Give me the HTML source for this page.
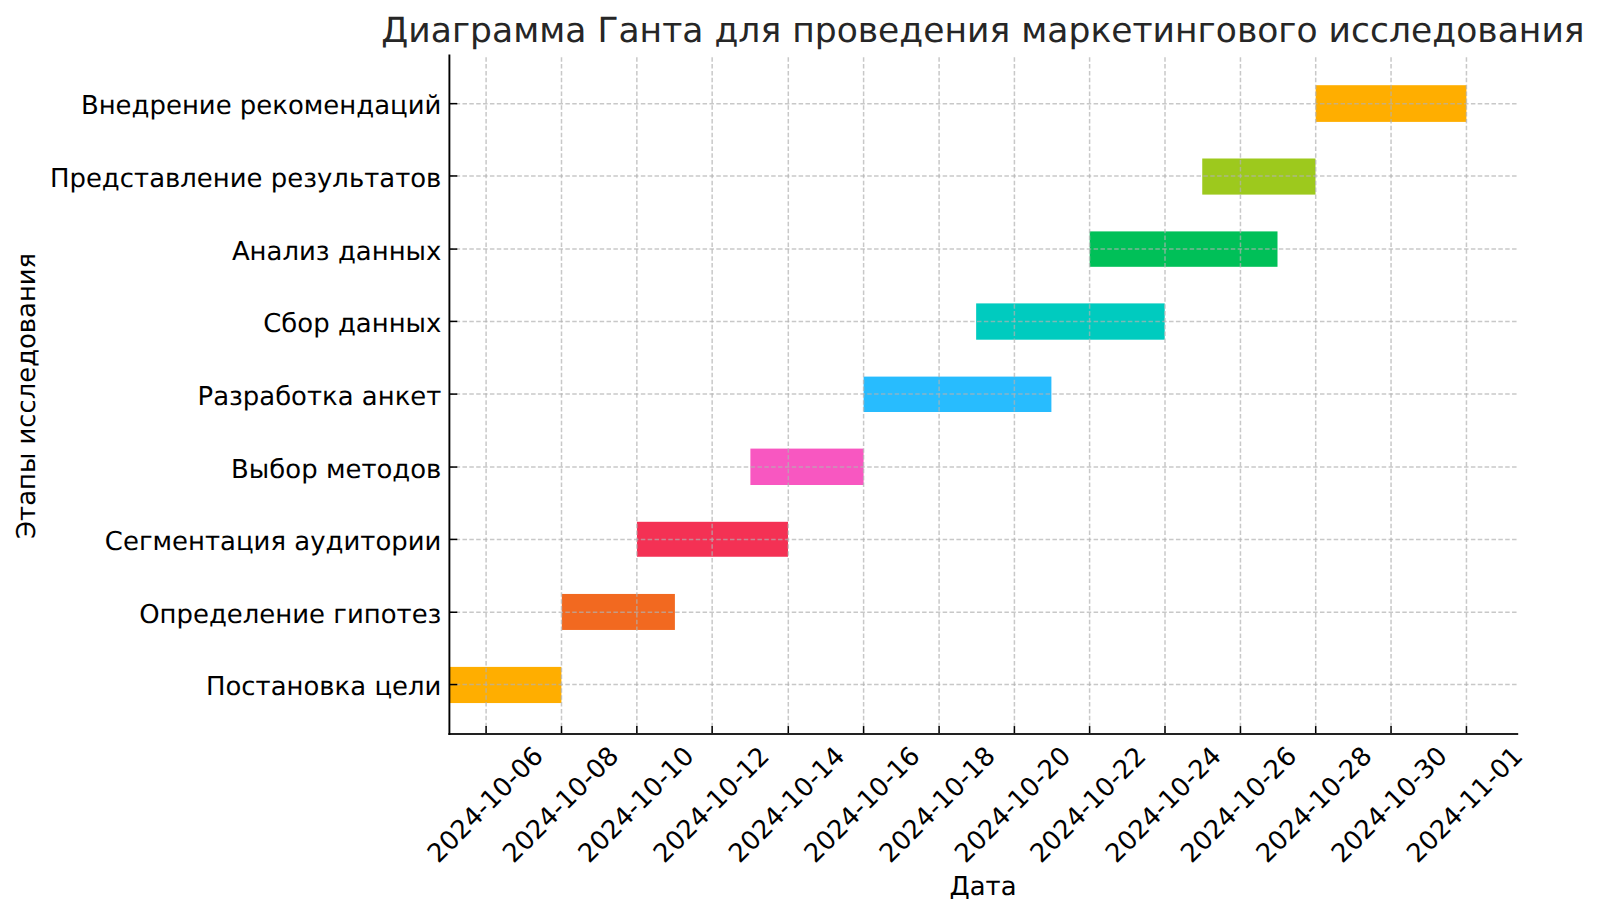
<!DOCTYPE html>
<html lang="ru"><head><meta charset="utf-8"><title>Диаграмма Ганта</title>
<style>html,body{margin:0;padding:0;background:#fff;overflow:hidden}svg{display:block}text{text-rendering:geometricPrecision;font-family:"DejaVu Sans","Liberation Sans",sans-serif;fill:#000}</style></head><body>
<svg width="1600" height="916" viewBox="0 0 1600 916">
<rect width="1600" height="916" fill="#fff"/>
<g id="bars">
<rect x="1315.70" y="85.20" width="150.70" height="36.70" fill="#FFAE00"/>
<rect x="1202.25" y="158.50" width="113.25" height="36.10" fill="#9DC91D"/>
<rect x="1089.70" y="231.40" width="187.80" height="35.40" fill="#00C058"/>
<rect x="976.15" y="303.40" width="188.55" height="36.30" fill="#00CBBF"/>
<rect x="863.60" y="376.60" width="187.80" height="35.40" fill="#28BCFE"/>
<rect x="750.40" y="448.60" width="113.20" height="36.40" fill="#F857C1"/>
<rect x="636.95" y="521.80" width="151.05" height="34.95" fill="#F43154"/>
<rect x="561.80" y="593.95" width="113.10" height="36.00" fill="#F26920"/>
<rect x="449.40" y="666.90" width="112.00" height="36.15" fill="#FFAE00"/>
</g>
<g id="grid" stroke="#b0b0b0" stroke-opacity="0.7" stroke-width="1.5" stroke-dasharray="4.5 2.36" fill="none">
<line x1="486.10" y1="734.00" x2="486.10" y2="55.40"/>
<line x1="561.50" y1="734.00" x2="561.50" y2="55.40"/>
<line x1="636.85" y1="734.00" x2="636.85" y2="55.40"/>
<line x1="712.15" y1="734.00" x2="712.15" y2="55.40"/>
<line x1="788.30" y1="734.00" x2="788.30" y2="55.40"/>
<line x1="863.60" y1="734.00" x2="863.60" y2="55.40"/>
<line x1="939.10" y1="734.00" x2="939.10" y2="55.40"/>
<line x1="1014.40" y1="734.00" x2="1014.40" y2="55.40"/>
<line x1="1089.60" y1="734.00" x2="1089.60" y2="55.40"/>
<line x1="1165.00" y1="734.00" x2="1165.00" y2="55.40"/>
<line x1="1240.45" y1="734.00" x2="1240.45" y2="55.40"/>
<line x1="1315.70" y1="734.00" x2="1315.70" y2="55.40"/>
<line x1="1391.05" y1="734.00" x2="1391.05" y2="55.40"/>
<line x1="1466.45" y1="734.00" x2="1466.45" y2="55.40"/>
<line x1="1517.20" y1="103.65" x2="449.40" y2="103.65" stroke-dashoffset="-0.65"/>
<line x1="1517.20" y1="175.96" x2="449.40" y2="175.96" stroke-dashoffset="-0.65"/>
<line x1="1517.20" y1="249.08" x2="449.40" y2="249.08" stroke-dashoffset="-0.65"/>
<line x1="1517.20" y1="321.40" x2="449.40" y2="321.40" stroke-dashoffset="-0.65"/>
<line x1="1517.20" y1="394.10" x2="449.40" y2="394.10" stroke-dashoffset="-0.65"/>
<line x1="1517.20" y1="467.05" x2="449.40" y2="467.05" stroke-dashoffset="-0.65"/>
<line x1="1517.20" y1="539.40" x2="449.40" y2="539.40" stroke-dashoffset="-0.65"/>
<line x1="1517.20" y1="612.25" x2="449.40" y2="612.25" stroke-dashoffset="-0.65"/>
<line x1="1517.20" y1="684.56" x2="449.40" y2="684.56" stroke-dashoffset="-0.65"/>
</g>
<g id="ticks" stroke="#000" stroke-width="1.5">
<line x1="486.10" y1="734.00" x2="486.10" y2="726.10"/>
<line x1="561.50" y1="734.00" x2="561.50" y2="726.10"/>
<line x1="636.85" y1="734.00" x2="636.85" y2="726.10"/>
<line x1="712.15" y1="734.00" x2="712.15" y2="726.10"/>
<line x1="788.30" y1="734.00" x2="788.30" y2="726.10"/>
<line x1="863.60" y1="734.00" x2="863.60" y2="726.10"/>
<line x1="939.10" y1="734.00" x2="939.10" y2="726.10"/>
<line x1="1014.40" y1="734.00" x2="1014.40" y2="726.10"/>
<line x1="1089.60" y1="734.00" x2="1089.60" y2="726.10"/>
<line x1="1165.00" y1="734.00" x2="1165.00" y2="726.10"/>
<line x1="1240.45" y1="734.00" x2="1240.45" y2="726.10"/>
<line x1="1315.70" y1="734.00" x2="1315.70" y2="726.10"/>
<line x1="1391.05" y1="734.00" x2="1391.05" y2="726.10"/>
<line x1="1466.45" y1="734.00" x2="1466.45" y2="726.10"/>
<line x1="449.40" y1="103.65" x2="457.30" y2="103.65"/>
<line x1="449.40" y1="175.96" x2="457.30" y2="175.96"/>
<line x1="449.40" y1="249.08" x2="457.30" y2="249.08"/>
<line x1="449.40" y1="321.40" x2="457.30" y2="321.40"/>
<line x1="449.40" y1="394.10" x2="457.30" y2="394.10"/>
<line x1="449.40" y1="467.05" x2="457.30" y2="467.05"/>
<line x1="449.40" y1="539.40" x2="457.30" y2="539.40"/>
<line x1="449.40" y1="612.25" x2="457.30" y2="612.25"/>
<line x1="449.40" y1="684.56" x2="457.30" y2="684.56"/>
</g>
<path d="M449.40 734.00H1517.20" fill="none" stroke="#222" stroke-width="2.0" stroke-linecap="square"/>
<path d="M449.40 55.40V734.00" fill="none" stroke="#000" stroke-width="1.9" stroke-linecap="square"/>
<text id="title" transform="translate(983.0 41.55) skewX(0.1)" font-size="34.545" text-anchor="middle" style="fill:#262626">Диаграмма Ганта для проведения маркетингового исследования</text>
<g id="ylabels" font-size="25.93" text-anchor="end">
<text transform="translate(441.4 114.20) skewX(0.1)">Внедрение рекомендаций</text>
<text transform="translate(441.4 186.51) skewX(0.1)">Представление результатов</text>
<text transform="translate(441.4 259.63) skewX(0.1)">Анализ данных</text>
<text transform="translate(441.4 331.95) skewX(0.1)">Сбор данных</text>
<text transform="translate(441.4 404.65) skewX(0.1)">Разработка анкет</text>
<text transform="translate(441.4 477.60) skewX(0.1)">Выбор методов</text>
<text transform="translate(441.4 549.95) skewX(0.1)">Сегментация аудитории</text>
<text transform="translate(441.4 622.80) skewX(0.1)">Определение гипотез</text>
<text transform="translate(441.4 695.11) skewX(0.1)">Постановка цели</text>
</g>
<g id="xlabels" font-size="25.93" text-anchor="middle">
<text transform="translate(484.90 804.20) rotate(-45) translate(0 9.33)">2024-10-06</text>
<text transform="translate(560.24 804.20) rotate(-45) translate(0 9.33)">2024-10-08</text>
<text transform="translate(635.57 804.20) rotate(-45) translate(0 9.33)">2024-10-10</text>
<text transform="translate(710.90 804.20) rotate(-45) translate(0 9.33)">2024-10-12</text>
<text transform="translate(786.24 804.20) rotate(-45) translate(0 9.33)">2024-10-14</text>
<text transform="translate(861.57 804.20) rotate(-45) translate(0 9.33)">2024-10-16</text>
<text transform="translate(936.91 804.20) rotate(-45) translate(0 9.33)">2024-10-18</text>
<text transform="translate(1012.24 804.20) rotate(-45) translate(0 9.33)">2024-10-20</text>
<text transform="translate(1087.58 804.20) rotate(-45) translate(0 9.33)">2024-10-22</text>
<text transform="translate(1162.91 804.20) rotate(-45) translate(0 9.33)">2024-10-24</text>
<text transform="translate(1238.25 804.20) rotate(-45) translate(0 9.33)">2024-10-26</text>
<text transform="translate(1313.59 804.20) rotate(-45) translate(0 9.33)">2024-10-28</text>
<text transform="translate(1388.92 804.20) rotate(-45) translate(0 9.33)">2024-10-30</text>
<text transform="translate(1464.25 804.20) rotate(-45) translate(0 9.33)">2024-11-01</text>
</g>
<text id="xlabel" transform="translate(983.0 894.8) skewX(0.1)" font-size="25.93" text-anchor="middle">Дата</text>
<text id="ylabel" transform="translate(35.0 395.9) rotate(-90) skewX(0.1)" font-size="25.85" text-anchor="middle">Этапы исследования</text>
</svg></body></html>
